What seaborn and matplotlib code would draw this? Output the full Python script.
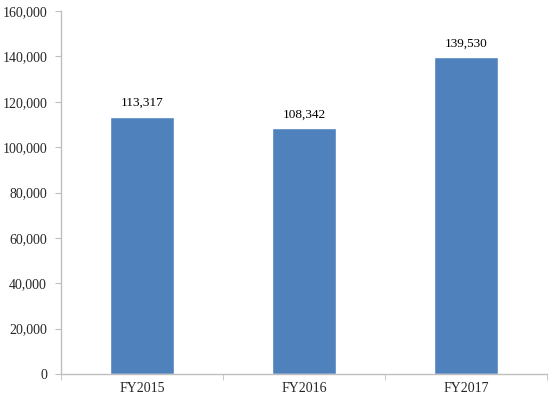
import numpy as np
import pandas as pd
from matplotlib import pyplot as plt
from matplotlib.ticker import FuncFormatter
import seaborn as sns

years = ["FY2015", "FY2016", "FY2017"]
values = [113317, 108342, 139530]

sns.set_style("white")
plt.rcParams['font.family'] = ['Liberation Serif', 'DejaVu Serif']

df = pd.DataFrame({"year": years, "value": values})

W, H = 556, 398
fig = plt.figure(figsize=(W / 100, H / 100), dpi=100)
ax = fig.add_axes([61 / W, 24 / H, 486 / W, 363 / H])

sns.barplot(data=df, x="year", y="value", color="#4F81BD", saturation=1,
            width=0.4, ax=ax)

ax.set_xlim(-0.5, len(years) - 0.5)
ax.set_ylim(0, 160000)
ax.set_yticks(np.arange(0, 160001, 20000))
ax.yaxis.set_major_formatter(FuncFormatter(lambda v, _: f"{int(v):,}"))
ax.set_xlabel("")
ax.set_ylabel("")

for i, v in enumerate(values):
    ax.text(i, v + 3500, f"{v:,}", ha="center", va="bottom", fontsize=9.5, color="black")

for s in ["top", "right"]:
    ax.spines[s].set_visible(False)
for s in ["left", "bottom"]:
    ax.spines[s].set_color("#BFBFBF")
    ax.spines[s].set_linewidth(1)

ax.tick_params(axis="y", left=True, length=4, color="#BFBFBF", labelsize=10, pad=6)
ax.tick_params(axis="x", bottom=False, labelsize=10, pad=2)
ax.set_xticks(np.arange(-0.5, len(years)), minor=True)
ax.tick_params(axis="x", which="minor", bottom=True, length=4, color="#BFBFBF")

fig.savefig("out.png", dpi=100)
